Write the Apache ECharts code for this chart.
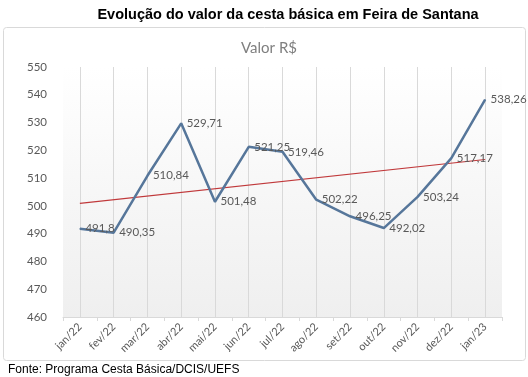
<!DOCTYPE html>
<html>
<head>
<meta charset="utf-8">
<script src="https://cdn.jsdelivr.net/npm/echarts@6/dist/echarts.min.js"></script>
<style>
  html, body { margin: 0; padding: 0; background: #fff; }
  #chart { width: 528px; height: 377px; }
</style>
</head>
<body>
<div id="chart"></div>
<script>
// months on the x axis
const months = ['jan/22', 'fev/22', 'mar/22', 'abr/22', 'mai/22', 'jun/22', 'jul/22',
  'ago/22', 'set/22', 'out/22', 'nov/22', 'dez/22', 'jan/23']
// cesta basica value (R$)
const valores = [491.8, 490.35, 510.84, 529.71, 501.48, 521.25, 519.46,
  502.22, 496.25, 492.02, 503.24, 517.17, 538.26]
// linear trend line, read at first and last month
const tendencia = [500.9, null, null, null, null, null, null, null, null, null, null, null, 516.7]

const fmt = v => String(v).replace('.', ',')
const labelFont = 'Lato, "Open Sans", sans-serif'

const chart = echarts.init(document.getElementById('chart'))
chart.setOption({
  animation: false,
  title: [{
    text: 'Evolução do valor da cesta básica em Feira de Santana',
    left: 283,
    top: 2,
    textAlign: 'center',
    textStyle: { fontFamily: '"Liberation Sans", Arial, sans-serif', fontSize: 14.5, fontWeight: 'bold', color: '#000' }
  }, {
    text: 'Valor R$',
    left: 264,
    top: 36,
    textAlign: 'center',
    textStyle: { fontFamily: labelFont, fontSize: 15, fontWeight: 'normal', color: '#7f7f7f' }
  }, {
    text: 'Fonte: Programa Cesta Básica/DCIS/UEFS',
    left: 3,
    top: 359,
    textStyle: { fontFamily: '"Liberation Sans", Arial, sans-serif', fontSize: 12, fontWeight: 'normal', color: '#000' }
  }],
  graphic: [{
    type: 'rect',
    shape: { x: 3.5, y: 27.5, width: 522, height: 333, r: 3 },
    style: { fill: 'none', stroke: '#d9d9d9', lineWidth: 1 },
    z: -1
  }],
  grid: {
    left: 63,
    right: 26,
    top: 67,
    bottom: 60,
    show: true,
    borderWidth: 0,
    backgroundColor: new echarts.graphic.LinearGradient(0, 0, 0, 1, [
      { offset: 0, color: '#ffffff' },
      { offset: 1, color: '#efefef' }
    ])
  },
  xAxis: {
    type: 'category',
    data: months,
    boundaryGap: true,
    axisLine: { lineStyle: { color: '#d9d9d9' } },
    axisTick: { show: true, length: 4, lineStyle: { color: '#d9d9d9' } },
    axisLabel: { rotate: 45, color: '#595959', fontSize: 11, fontFamily: labelFont, margin: 8, interval: 0 },
    splitLine: { show: false }
  },
  yAxis: {
    type: 'value',
    min: 460,
    max: 550,
    interval: 10,
    axisLine: { show: false },
    axisTick: { show: false },
    axisLabel: { color: '#595959', fontSize: 11.5, fontFamily: labelFont, margin: 16 },
    splitLine: { show: false }
  },
  series: [{
    type: 'line',
    data: valores,
    symbol: 'circle',
    symbolSize: 1,
    itemStyle: { color: '#56769a' },
    lineStyle: { color: '#56769a', width: 2.5 },
    label: {
      show: true,
      position: 'right',
      distance: 5,
      color: '#595959',
      fontSize: 11.5,
      fontFamily: labelFont,
      formatter: p => fmt(p.value)
    },
    // vertical gridlines at each month
    markLine: {
      silent: true,
      symbol: 'none',
      label: { show: false },
      lineStyle: { color: '#d9d9d9', type: 'solid', width: 1 },
      data: months.map(m => ({ xAxis: m })),
      z: 0
    },
    z: 3
  }, {
    type: 'line',
    data: tendencia,
    connectNulls: true,
    symbol: 'none',
    lineStyle: { color: '#c0393b', width: 1.2 },
    z: 2
  }]
})
</script>
</body>
</html>
